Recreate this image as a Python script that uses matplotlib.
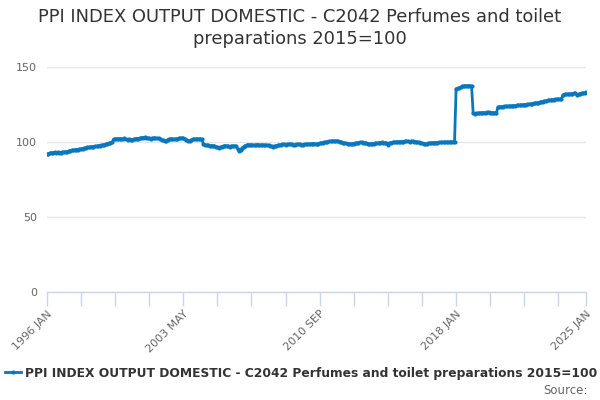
import matplotlib
matplotlib.use("Agg")
import matplotlib.pyplot as plt
import numpy as np
import pandas as pd
from matplotlib.lines import Line2D

title = "PPI INDEX OUTPUT DOMESTIC - C2042 Perfumes and toilet\npreparations 2015=100"
series_name = "PPI INDEX OUTPUT DOMESTIC - C2042 Perfumes and toilet preparations 2015=100"
start_month = "1996-01"

v1996 = [91.8, 92.2, 92.6, 93.0, 92.8, 93.2, 92.9, 93.1, 92.8, 93.0, 93.2, 93.4]
v1997 = [93.5, 93.6, 93.9, 94.2, 94.5, 94.4, 94.8, 95.0, 94.9, 95.2, 95.4, 95.6]
v1998 = [95.8, 96.2, 96.5, 96.4, 96.7, 96.9, 97.0, 97.2, 97.1, 97.4, 97.6, 97.8]
v1999 = [98.0, 98.3, 98.6, 98.8, 99.1, 99.4, 99.7, 101.8, 102.0, 102.1, 102.2, 102.0]
v2000 = [102.2, 102.0, 102.4, 101.8, 101.5, 101.9, 101.3, 101.6, 101.8, 102.0, 102.3, 102.2]
v2001 = [102.5, 102.8, 103.0, 103.1, 102.9, 102.7, 102.4, 102.3, 102.5, 102.8, 102.6, 102.4]
v2002 = [102.4, 102.0, 101.5, 101.2, 100.8, 101.0, 101.6, 101.9, 102.2, 102.0, 101.8, 102.0]
v2003 = [102.2, 102.4, 102.6, 102.7, 102.5, 102.2, 101.5, 101.0, 100.8, 101.2, 101.8, 102.0]
v2004 = [102.0, 102.1, 101.9, 102.0, 101.8, 98.5, 98.2, 98.0, 97.8, 97.6, 97.5, 97.6]
v2005 = [97.4, 97.0, 96.4, 95.8, 96.4, 97.0, 97.4, 97.6, 97.4, 97.2, 97.0, 97.3]
v2006 = [97.4, 97.2, 97.4, 95.6, 94.0, 94.8, 96.0, 97.0, 97.6, 98.0, 98.1, 98.2]
v2007 = [98.2, 98.0, 97.8, 98.1, 98.3, 98.0, 97.9, 98.2, 98.0, 97.8, 97.9, 97.7]
v2008 = [97.5, 97.2, 96.9, 97.3, 97.6, 97.8, 98.0, 98.2, 98.4, 98.5, 98.3, 98.5]
v2009 = [98.6, 98.7, 98.5, 98.3, 98.2, 98.4, 98.6, 98.5, 98.3, 98.2, 98.4, 98.5]
v2010 = [98.6, 98.7, 98.5, 98.8, 99.0, 98.8, 98.7, 98.9, 99.2, 99.4, 99.6, 99.8]
v2011 = [100.0, 100.2, 100.4, 100.5, 100.6, 100.7, 100.6, 100.7, 100.5, 100.3, 100.0, 99.6]
v2012 = [99.3, 99.1, 98.9, 98.8, 98.7, 98.8, 99.0, 99.2, 99.4, 99.6, 99.7, 99.8]
v2013 = [99.6, 99.4, 99.2, 99.0, 98.9, 98.8, 98.9, 99.0, 99.2, 99.3, 99.5, 99.6]
v2014 = [99.7, 99.5, 99.6, 99.3, 98.2, 99.2, 99.6, 99.8, 99.9, 100.0, 100.1, 100.2]
v2015 = [100.1, 100.2, 100.3, 100.4, 100.5, 100.4, 100.3, 100.5, 100.4, 100.3, 100.2, 100.0]
v2016 = [99.8, 99.5, 99.2, 99.0, 98.7, 98.9, 99.1, 99.3, 99.4, 99.5, 99.6, 99.6]
v2017 = [99.6, 99.7, 99.8, 99.7, 99.8, 99.9, 100.0, 99.9, 100.0, 100.1, 100.0, 100.3]
v2018 = [135.5, 135.7, 136.0, 136.5, 137.2, 137.4, 137.5, 137.4, 137.6, 137.5, 137.3, 119.2]
v2019 = [119.0, 119.1, 119.2, 119.3, 119.5, 119.5, 119.6, 119.5, 119.7, 119.8, 119.6, 119.5]
v2020 = [119.5, 119.6, 119.5, 123.2, 123.5, 123.6, 123.5, 123.7, 123.8, 123.7, 123.9, 124.0]
v2021 = [124.1, 124.2, 124.3, 124.4, 124.5, 124.6, 124.7, 124.8, 124.9, 125.0, 125.1, 125.2]
v2022 = [125.3, 125.5, 125.7, 125.9, 126.1, 126.3, 126.5, 126.8, 127.0, 127.3, 127.5, 127.7]
v2023 = [127.9, 128.1, 128.2, 128.3, 128.4, 128.5, 128.6, 128.6, 128.7, 131.5, 131.7, 131.8]
v2024 = [131.9, 132.0, 132.1, 132.2, 132.4, 132.6, 131.6, 131.9, 132.3, 132.5, 132.6, 132.8]
v2025 = [133.2]

yearly = [v1996, v1997, v1998, v1999, v2000, v2001, v2002, v2003, v2004, v2005,
          v2006, v2007, v2008, v2009, v2010, v2011, v2012, v2013, v2014, v2015,
          v2016, v2017, v2018, v2019, v2020, v2021, v2022, v2023, v2024, v2025]
values = [v for yr in yearly for v in yr]

months = pd.period_range(start_month, periods=len(values), freq="M")
categories = [f"{p.year} {p.strftime('%b').upper()}" for p in months]
label_cats = ["1996 JAN", "2003 MAY", "2010 SEP", "2018 JAN", "2025 JAN"]
y_ticks = [0, 50, 100, 150]

tick_step = 22

color = "#0a77bd"
fig = plt.figure(figsize=(6, 4), dpi=100)
ax = fig.add_axes([46.9 / 600, 1 - 292 / 400, 539.4 / 600, 225 / 400])

x = np.arange(len(values))
ax.plot(x, values, color=color, lw=2, marker="o", ms=3, mew=0, zorder=3)

ax.set_xlim(0, len(values) - 1)
ax.set_ylim(0, 150)
ax.set_yticks(y_ticks)
ax.set_yticklabels([str(t) for t in y_ticks], color="#666666", fontsize=8)
ax.tick_params(axis="y", length=0, pad=7)
ax.grid(axis="y", color="#e6e6e6", lw=1)
ax.set_axisbelow(True)

tick_pos = list(range(0, len(values), tick_step))
if tick_pos[-1] != len(values) - 1:
    tick_pos.append(len(values) - 1)
ax.set_xticks(tick_pos)
lab_pos = [categories.index(c) for c in label_cats]
ax.set_xticklabels([categories[p] if p in lab_pos else "" for p in tick_pos],
                   rotation=45, ha="right", va="top", rotation_mode="anchor",
                   color="#666666", fontsize=8)
ax.tick_params(axis="x", length=10, color="#ccd6eb", width=1, pad=2)

for s in ["top", "right", "left"]:
    ax.spines[s].set_visible(False)
ax.spines["bottom"].set_color("#ccd6eb")
ax.spines["bottom"].set_linewidth(1)
ax.spines["bottom"].set_zorder(4)

fig.text(0.5, 1 - 8 / 400, title, ha="center", va="top", fontsize=12.9,
         color="#333333", linespacing=1.25)

h = Line2D([], [], color=color, lw=2, marker="o", ms=3, mew=0)
fig.legend([h], [series_name], loc="center", bbox_to_anchor=(0.502, 1 - 373 / 400),
           frameon=False, prop={"weight": "bold", "size": 8.8}, handlelength=1.3,
           handletextpad=0.4, labelcolor="#333333")
fig.text(588 / 600, 1 - 390 / 400, "Source:", ha="right", va="center",
         fontsize=8.5, color="#666666")

fig.savefig("out.png", dpi=100)
